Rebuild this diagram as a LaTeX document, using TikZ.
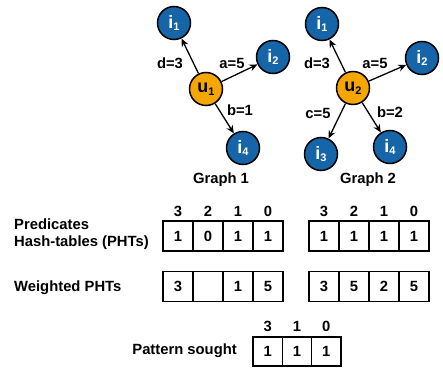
\documentclass[tikz,border=0pt]{standalone}
\usepackage{fontspec}
\setmainfont{Liberation Sans}
\usetikzlibrary{arrows.meta}
\definecolor{nodeblue}{RGB}{22,101,168}
\definecolor{nodeorange}{RGB}{246,166,0}
\newcommand\nlab[2]{#1\raisebox{-2.5pt}{\fontsize{11}{11}\selectfont #2}}
\begin{document}
\begin{tikzpicture}[x=1pt,y=-1pt,
  every node/.style={font=\bfseries\fontsize{14.8}{17}\selectfont},
  item/.style={circle, draw, line width=1.5pt, fill=nodeblue, text=white, minimum size=33pt, inner sep=0pt, font=\bfseries\fontsize{18}{18}\selectfont},
  user/.style={circle, draw, line width=1.5pt, fill=nodeorange, minimum size=33pt, inner sep=0pt, font=\bfseries\fontsize{18}{18}\selectfont},
  edge/.style={-{Stealth[length=8pt,width=7pt]}, line width=1.3pt},
  cell/.style={draw, line width=1.4pt, minimum width=30pt, minimum height=30pt, inner sep=0pt},
  pcell/.style={cell, minimum width=29.3pt, minimum height=29pt}
]
\useasboundingbox (0,0) rectangle (443,371);
% Graph 1
\node[user] (u1) at (206,89) {\nlab{u}{1}};
\node[item] (g1i1) at (174,23) {\nlab{i}{1}};
\node[item] (g1i2) at (273,57) {\nlab{i}{2}};
\node[item] (g1i4) at (243,148) {\nlab{i}{4}};
\draw[edge] (u1) -- (g1i1);
\draw[edge] (u1) -- (g1i2);
\draw[edge] (u1) -- (g1i4);
\node (g1d) at (170,63) {d=3};
\node (g1a) at (232,63) {a=5};
\node (g1b) at (240,110) {b=1};
\node (g1lab) at (221,180) {Graph 1};
% Graph 2
\node[user] (u2) at (353,88) {\nlab{u}{2}};
\node[item] (g2i1) at (322,24) {\nlab{i}{1}};
\node[item] (g2i2) at (422,58) {\nlab{i}{2}};
\node[item] (g2i3) at (321,154) {\nlab{i}{3}};
\node[item] (g2i4) at (390,147) {\nlab{i}{4}};
\draw[edge] (u2) -- (g2i1);
\draw[edge] (u2) -- (g2i2);
\draw[edge] (u2) -- (g2i3);
\draw[edge] (u2) -- (g2i4);
\node (g2d) at (317,63) {d=3};
\node (g2a) at (375,63) {a=5};
\node (g2c) at (318,113) {c=5};
\node (g2b) at (390,112) {b=2};
\node (g2lab) at (368,180) {Graph 2};
% Row labels
\node[anchor=west, align=left, inner sep=0pt] (lpht) at (14,234.5) {Predicates\\Hash-tables (PHTs)};
\node[anchor=west, inner sep=0pt] (lwpht) at (14,288) {Weighted PHTs};
\node[anchor=east, inner sep=0pt] (lpat) at (237,351) {Pattern sought};
% Headers
\foreach \h [count=\k] in {3,2,1,0} {
  \node (ha\k) at (163+30*\k-15,211) {\h};
  \node (hb\k) at (309+30*\k-15,211) {\h};
}
% PHTs
\foreach \v [count=\k] in {1,0,1,1}
  \node[cell] (pa\k) at (163+30*\k-15,236) {\v};
\foreach \v [count=\k] in {1,1,1,1}
  \node[cell] (pb\k) at (309+30*\k-15,236) {\v};
% Weighted PHTs
\foreach \v [count=\k] in {3,{},1,5}
  \node[cell] (wa\k) at (163+30*\k-15,286.5) {\v};
\foreach \v [count=\k] in {3,5,2,5}
  \node[cell] (wb\k) at (309+30*\k-15,286.5) {\v};
% Pattern sought
\foreach \h [count=\k] in {3,1,0} {
  \node (hp\k) at (253+29.3*\k-14.65,326) {\h};
  \node[pcell] (pp\k) at (253+29.3*\k-14.65,351.5) {1};
}
\end{tikzpicture}
\end{document}
